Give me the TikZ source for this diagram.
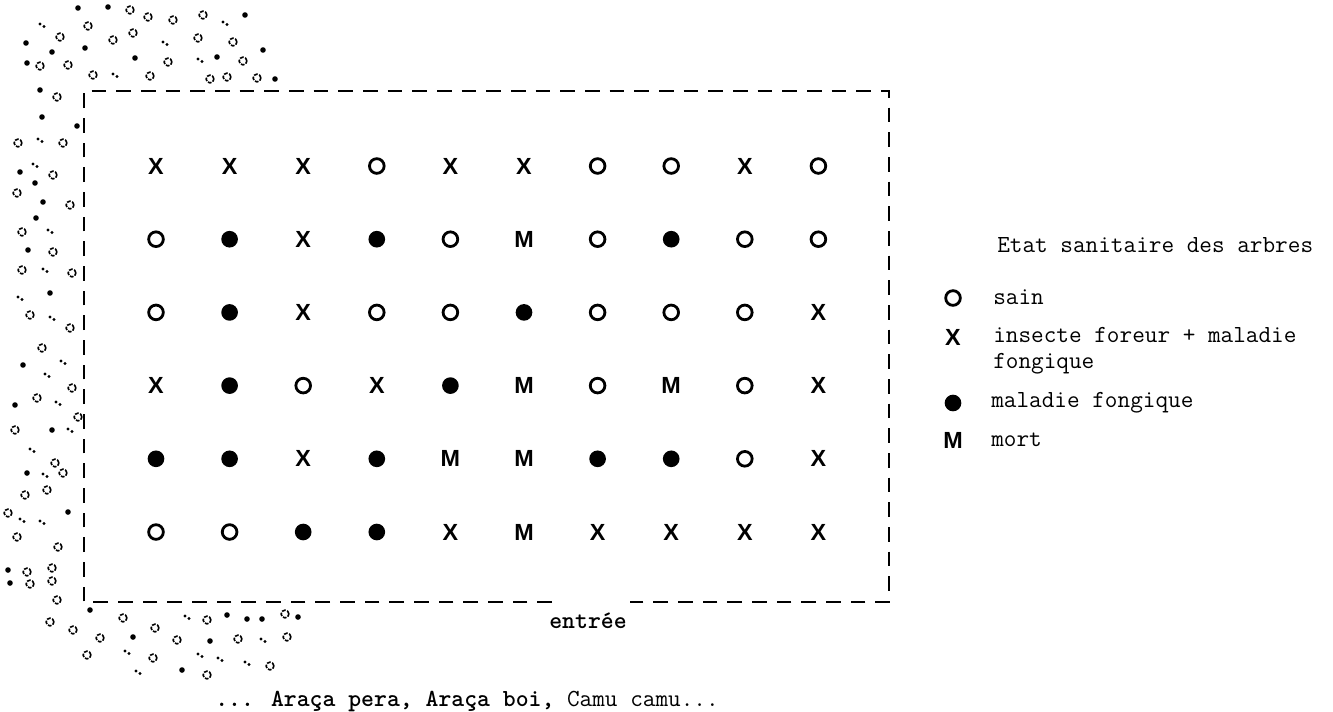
\documentclass[tikz,border=0pt]{standalone}
\usepackage{fontspec}
\setmainfont{Liberation Sans}
\begin{document}
\begin{tikzpicture}[x=0.75pt,y=-0.75pt,
  symbase/.style={inner sep=0pt,outer sep=0pt},
  symx/.style={symbase,font=\fontsize{17.5}{18}\selectfont\bfseries,node contents={X}},
  symm/.style={symbase,font=\fontsize{17.5}{18}\selectfont\bfseries,node contents={M}},
  symo/.style={symbase,circle,draw,line width=2.1pt,minimum size=11pt,node contents={}},
  symf/.style={symbase,circle,fill,minimum size=12.5pt,node contents={}},
  monosize/.style={font=\ttfamily\fontsize{18.4}{21}\selectfont},
  monobold/.style={font=\ttfamily\bfseries\fontsize{18.4}{21}\selectfont},
  legtext/.style={anchor=base west,inner sep=0pt,monosize},
  speck/.style={line width=1.2pt,dash pattern=on 2.8pt off 1.1pt},
  plot/.style={line width=2pt,dash pattern=on 11pt off 7.5pt}]
\useasboundingbox (0,0) rectangle (1333,711);

% stippled forest edge
\foreach \p in {(130,10),(148,17),(173,20),(203,15),(88,26),(60,37),(113,40),(133,33),
  (198,38),(233,42),(168,62),(243,61),(40,66),(68,65),(93,75),(150,76),(210,79),(227,77),
  (257,78),(57,97),(63,143),(18,143),(53,175),(17,193),(70,205),(22,232),(53,252),(22,270),
  (72,273),(30,315),(70,328),(42,348),(72,388),(37,398),(78,417),(15,430),(55,463),(63,473),
  (25,495),(47,490),(8,513),(17,537),(58,547),(27,572),(52,568),(57,600),(30,584),(52,581),
  (50,622),(73,630),(100,638),(123,618),(155,628),(207,620),(285,614),(87,655),(153,658),
  (177,640),(238,639),(287,637),(270,666),(207,675)}
  \draw[speck] \p circle[radius=2.9pt];
\foreach \p in {(78,8),(108,7),(245,15),(26,43),(85,48),(52,52),(263,50),(135,58),(217,57),
  (27,63),(275,79),(40,90),(42,117),(77,126),(20,172),(35,183),(43,202),(36,218),(28,250),
  (50,293),(23,365),(15,405),(52,430),(27,473),(68,512),(8,570),(10,583),(90,610),(133,637),
  (227,615),(247,619),(262,619),(298,617),(210,641),(182,670)}
  \fill \p circle[radius=2.1pt];
\foreach \p in {(42,25),(225,23),(165,43),(200,60),(115,75),(40,140),(35,165),(50,231),
  (45,270),(20,298),(52,318),(63,362),(47,375),(58,403),(70,430),(32,450),(45,475),(22,520),
  (42,522),(187,617),(127,652),(263,640),(200,655),(220,659),(247,663),(138,672)}
  {\fill \p ++(-2,-1) circle[radius=1.2pt]; \fill \p ++(2,1.5) circle[radius=1.2pt];}

% plot boundary
\coordinate (tl) at (84,91);
\coordinate (tr) at (889,91);
\coordinate (br) at (889,602);
\coordinate (bl) at (84,602);
\coordinate (gapL) at (552,602);
\coordinate (gapR) at (630,602);
\draw[plot] (gapL) -- (bl) -- (tl) -- (tr) -- (br) -- (gapR);

% trees
\foreach \row [count=\i] in {
  {x,x,x,o,x,x,o,o,x,o},
  {o,f,x,f,o,m,o,f,o,o},
  {o,f,x,o,o,f,o,o,o,x},
  {x,f,o,x,f,m,o,m,o,x},
  {f,f,x,f,m,m,f,f,o,x},
  {o,o,f,f,x,m,x,x,x,x}}
  \foreach \s [count=\j] in \row
    \node[sym\s,name=t\i-\j,at={({156+73.6*(\j-1)},{166+73.2*(\i-1)})}];

% labels
\node[inner sep=0pt,monobold,anchor=base] (entree) at (588,628) {entrée};
\node[anchor=base west,inner sep=0pt,monosize] (species) at (215,706)
  {{\bfseries ... Araça pera, Araça boi,} Camu camu...};

% legend
\node[legtext] (legtitle) at (997,252) {Etat sanitaire des arbres};
\node[symo,name=lo,at={(953,298)}];
\node[symx,name=lx,at={(953,337)}];
\node[symf,name=lf,at={(953,403)}];
\node[symm,name=lm,at={(953,440)}];
\node[legtext] (ls) at (993,304) {sain};
\node[legtext] (li) at (993,342) {insecte foreur + maladie};
\node[legtext] (li2) at (993,368) {fongique};
\node[legtext] (lfg) at (991,407) {maladie fongique};
\node[legtext] (lmt) at (991,446) {mort};
\end{tikzpicture}
\end{document}
